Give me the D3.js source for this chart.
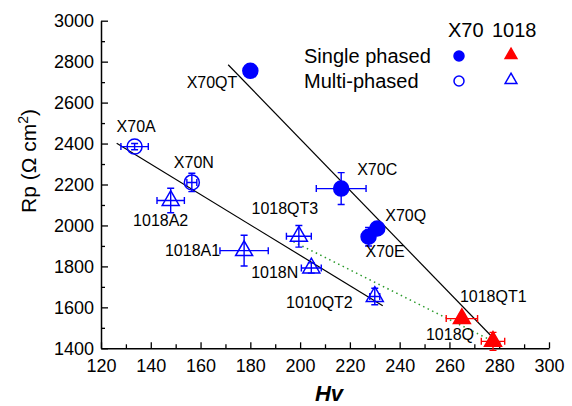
<!DOCTYPE html>
<html>
<head>
<meta charset="utf-8">
<script src="https://cdn.jsdelivr.net/npm/d3@7"></script>
<style>
  body { margin: 0; background: #fff; }
  svg { font-family: "Liberation Sans", Arial, sans-serif; }
</style>
</head>
<body>
<script>
const width = 572;
const height = 406;

// samples: name, hardness, Rp, errors, steel, phase
const names  = ["X70QT", "X70A", "X70N", "X70C", "X70Q", "X70E",
                "1018A2", "1018A1", "1018QT3", "1018N", "1010QT2", "1018QT1", "1018Q"];
const hv     = [180, 133.5, 156.5, 216.5, 231, 227.5, 148, 177.5, 199.5, 204.5, 230, 265, 277.5];
const rp     = [2755, 2385, 2210, 2180, 1985, 1945, 2122, 1877, 1947, 1792, 1653, 1545, 1434];
const hvErr  = [1.5, 5.5, 2, 10, 0, 0, 5.5, 9.7, 5, 4, 2, 6.3, 4.7];
const rpErr  = [10, 15, 45, 78, 0, 45, 60, 75, 53, 25, 40, 20, 44];
const steel  = ["X70", "X70", "X70", "X70", "X70", "X70",
                "1018", "1018", "1018", "1018", "1018", "1018", "1018"];
const phase  = ["single", "multi", "multi", "single", "single", "single",
                "multi", "multi", "multi", "multi", "multi", "single", "single"];

// fitted trend lines [hv, rp] end points
const lineSingle = [[171.1, 2785], [280.3, 1416]];
const lineMulti  = [[126.3, 2401], [233.2, 1608]];
const line1018   = [[197.3, 1921], [279, 1425]];

const xTicks = [120, 140, 160, 180, 200, 220, 240, 260, 280, 300];
const yTicks = [1400, 1600, 1800, 2000, 2200, 2400, 2600, 2800, 3000];

// label placement relative to point (px): dx, dy, anchor
const labelPos = {
  "X70QT": [-13, 17, "end"], "X70A": [-18, -15, "start"], "X70N": [-18, -14, "start"],
  "X70C": [16, -14, "start"], "X70Q": [8, -8, "start"], "X70E": [-3, 20, "start"],
  "1018A2": [-10, 26, "middle"], "1018A1": [-24, 5, "end"], "1018QT3": [-14, -22, "middle"],
  "1018N": [-13, 10, "end"], "1010QT2": [-22, 12, "end"], "1018QT1": [-2, -17, "start"],
  "1018Q": [-19, -1, "end"]
};

const svg = d3.select("body").append("svg")
  .attr("width", width)
  .attr("height", height);

const x = d3.scaleLinear().domain([120, 300]).range([101, 549]);
const y = d3.scaleLinear().domain([1400, 3000]).range([348.3, 20.7]);

// minor ticks
svg.append("g")
  .attr("transform", `translate(0,${y(1400)})`)
  .call(d3.axisBottom(x).tickValues(d3.range(130, 300, 20)).tickSize(-4).tickFormat(""))
  .call(g => g.select(".domain").remove())
  .call(g => g.selectAll("line").attr("stroke-width", 1.3));
svg.append("g")
  .attr("transform", `translate(${x(120)},0)`)
  .call(d3.axisLeft(y).tickValues(d3.range(1500, 3000, 200)).tickSize(-4).tickFormat(""))
  .call(g => g.select(".domain").remove())
  .call(g => g.selectAll("line").attr("stroke-width", 1.3));

// main axes
const xAxis = svg.append("g")
  .attr("transform", `translate(0,${y(1400)})`)
  .call(d3.axisBottom(x).tickValues(xTicks).tickFormat(d3.format("d"))
    .tickSize(-6).tickSizeOuter(0).tickPadding(11));
const yAxis = svg.append("g")
  .attr("transform", `translate(${x(120)},0)`)
  .call(d3.axisLeft(y).tickValues(yTicks).tickFormat(d3.format("d"))
    .tickSize(-7).tickSizeOuter(0).tickPadding(7));

[xAxis, yAxis].forEach(g => {
  g.selectAll("text").attr("font-size", 18).attr("font-family", "Liberation Sans, Arial, sans-serif").attr("fill", "#000");
  g.selectAll("line").attr("stroke-width", 1.3);
  g.select(".domain").attr("stroke-width", 1.5);
});

// axis titles
svg.append("text")
  .attr("x", 329).attr("y", 401)
  .attr("text-anchor", "middle")
  .attr("font-size", 22)
  .attr("font-weight", "bold")
  .attr("font-style", "italic")
  .text("Hv");

const yt = svg.append("text")
  .attr("transform", "translate(36,161) rotate(-90)")
  .attr("text-anchor", "middle")
  .attr("font-size", 21);
yt.append("tspan").text("Rp (Ω cm");
yt.append("tspan").attr("font-size", 14).attr("dy", -8).text("2");
yt.append("tspan").attr("dy", 8).text(")");

// trend lines
const lineGen = d3.line().x(d => x(d[0])).y(d => y(d[1]));
svg.append("path").attr("d", lineGen(lineSingle)).attr("stroke", "#000").attr("stroke-width", 1.2).attr("fill", "none");
svg.append("path").attr("d", lineGen(lineMulti)).attr("stroke", "#000").attr("stroke-width", 1.2).attr("fill", "none");
svg.append("path").attr("d", lineGen(line1018)).attr("stroke", "#2a9a2a").attr("stroke-width", 1.5)
  .attr("stroke-dasharray", "1.5,3.5").attr("fill", "none");

const points = names.map((n, i) => ({
  name: n, hv: hv[i], rp: rp[i], hvErr: hvErr[i], rpErr: rpErr[i],
  steel: steel[i], phase: phase[i],
  color: phase[i] === "single" && steel[i] === "1018" ? "#ff0000" : "#0000ff"
}));

// error bars
const cap = 3.5;
const eb = svg.append("g").attr("fill", "none").attr("stroke-width", 1.4);
points.forEach(p => {
  const cx = x(p.hv), cy = y(p.rp);
  if (p.hvErr > 0) {
    const x0 = x(p.hv - p.hvErr), x1 = x(p.hv + p.hvErr);
    eb.append("path").attr("stroke", p.color)
      .attr("d", `M${x0},${cy}H${x1}M${x0},${cy - cap}V${cy + cap}M${x1},${cy - cap}V${cy + cap}`);
  }
  if (p.rpErr > 0) {
    const y0 = y(p.rp - p.rpErr), y1 = y(p.rp + p.rpErr);
    eb.append("path").attr("stroke", p.color)
      .attr("d", `M${cx},${y0}V${y1}M${cx - cap},${y0}H${cx + cap}M${cx - cap},${y1}H${cx + cap}`);
  }
});

// markers
function marker(g, p, big) {
  const filled = p.phase === "single";
  if (p.steel === "X70") {
    g.append("circle").attr("r", big ? 7.5 : 5)
      .attr("fill", filled ? p.color : "none")
      .attr("stroke", p.color).attr("stroke-width", 1.5);
  } else {
    g.append("path").attr("d", d3.symbol(d3.symbolTriangle, big ? 125 : 60)())
      .attr("fill", filled ? p.color : "none")
      .attr("stroke", p.color).attr("stroke-width", 1.5);
  }
}

svg.append("g").selectAll("g")
  .data(points)
  .join("g")
  .attr("transform", d => `translate(${x(d.hv)},${y(d.rp)})`)
  .each(function (d) { marker(d3.select(this), d, true); });

// point labels
svg.append("g").selectAll("text")
  .data(points)
  .join("text")
  .attr("x", d => x(d.hv) + labelPos[d.name][0])
  .attr("y", d => y(d.rp) + labelPos[d.name][1])
  .attr("text-anchor", d => labelPos[d.name][2])
  .attr("font-size", 16)
  .text(d => d.name);

// legend
const legend = svg.append("g").attr("font-size", 20);
legend.append("text").attr("x", 448).attr("y", 37).text("X70");
legend.append("text").attr("x", 492).attr("y", 37).text("1018");
legend.append("text").attr("x", 304).attr("y", 63).text("Single phased");
legend.append("text").attr("x", 304).attr("y", 88).text("Multi-phased");
const legendItems = [
  { steel: "X70", phase: "single", color: "#0000ff", lx: 459, ly: 56 },
  { steel: "1018", phase: "single", color: "#ff0000", lx: 511, ly: 55 },
  { steel: "X70", phase: "multi", color: "#0000ff", lx: 459, ly: 81 },
  { steel: "1018", phase: "multi", color: "#0000ff", lx: 511, ly: 80 }
];
legendItems.forEach(it => {
  const g = legend.append("g").attr("transform", `translate(${it.lx},${it.ly})`);
  marker(g, it, false);
});
</script>
</body>
</html>
